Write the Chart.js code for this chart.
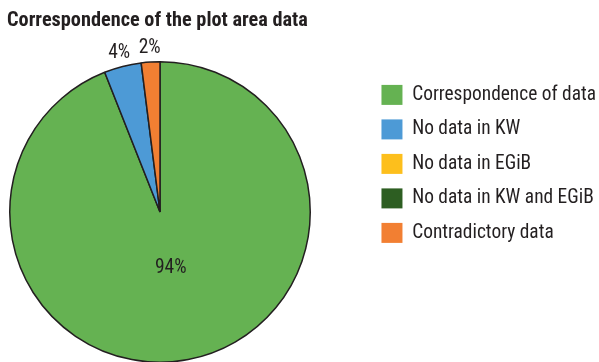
<!DOCTYPE html>
<html>
<head>
<meta charset="utf-8">
<script src="https://cdn.jsdelivr.net/npm/chart.js@4/dist/chart.umd.min.js"></script>
<style>
html,body{margin:0;padding:0;background:#fff;}
#wrap{width:599px;height:362px;position:relative;}
</style>
</head>
<body>
<div id="wrap"><canvas id="c"></canvas></div>
<script>
const categories = ['Correspondence of data', 'No data in KW', 'No data in EGiB', 'No data in KW and EGiB', 'Contradictory data'];
const values = [94, 4, 0, 0, 2];
const valueLabels = ['94%', '4%', '', '', '2%'];
const colors = ['#65b252', '#4d9ad6', '#fdbf1c', '#2d5e22', '#f27f32'];
const titleText = 'Correspondence of the plot area data';

const FONT = '"Roboto Condensed", "Liberation Sans", sans-serif';

const pieArea = {
  id: 'pieArea',
  afterLayout(chart) {
    const a = chart.chartArea;
    a.left = 9; a.right = 311; a.top = 61; a.bottom = 363;
    a.width = a.right - a.left; a.height = a.bottom - a.top;
  }
};

const sliceLabels = {
  id: 'sliceLabels',
  afterDatasetsDraw(chart) {
    const ctx = chart.ctx;
    const meta = chart.getDatasetMeta(0);
    ctx.save();
    ctx.font = '19.5px ' + FONT;
    ctx.fillStyle = '#231f20';
    ctx.textAlign = 'center';
    ctx.textBaseline = 'middle';
    const total = values.reduce((s, v) => s + v, 0);
    meta.data.forEach((arc, i) => {
      if (!valueLabels[i]) return;
      const p = arc.getProps(['x', 'y', 'startAngle', 'endAngle', 'outerRadius'], true);
      const mid = (p.startAngle + p.endAngle) / 2;
      const frac = values[i] / total;
      const d = frac > 0.2 ? p.outerRadius * 0.38 : p.outerRadius + 14;
      ctx.fillText(valueLabels[i], p.x + Math.cos(mid) * d, p.y + Math.sin(mid) * d);
    });
    ctx.restore();
  }
};

new Chart(document.getElementById('c'), {
  type: 'pie',
  data: {
    labels: categories,
    datasets: [{
      data: values,
      backgroundColor: colors,
      borderColor: '#231f20',
      borderWidth: 1.5,
      borderAlign: 'center'
    }]
  },
  options: {
    responsive: true,
    maintainAspectRatio: false,
    animation: false,
    layout: { padding: { left: 7, right: -7, top: 0, bottom: 0 } },
    plugins: {
      title: {
        display: true,
        text: titleText,
        align: 'start',
        color: '#231f20',
        font: { family: FONT, size: 20.3, weight: 'bold' },
        padding: { top: 9, bottom: 20 }
      },
      legend: {
        position: 'right',
        align: 'start',
        title: {
          display: true,
          text: ' ',
          font: { size: 12 },
          padding: { top: 0, bottom: 56 }
        },
        labels: {
          boxWidth: 21,
          boxHeight: 20,
          padding: 14.5,
          color: '#231f20',
          font: { family: FONT, size: 19.4 },
          generateLabels(chart) {
            const items = Chart.overrides.pie.plugins.legend.labels.generateLabels(chart);
            items.forEach(it => { it.lineWidth = 0; it.strokeStyle = it.fillStyle; it.hidden = false; });
            return items;
          }
        }
      },
      tooltip: { enabled: false }
    }
  },
  plugins: [pieArea, sliceLabels]
});
</script>
</body>
</html>
